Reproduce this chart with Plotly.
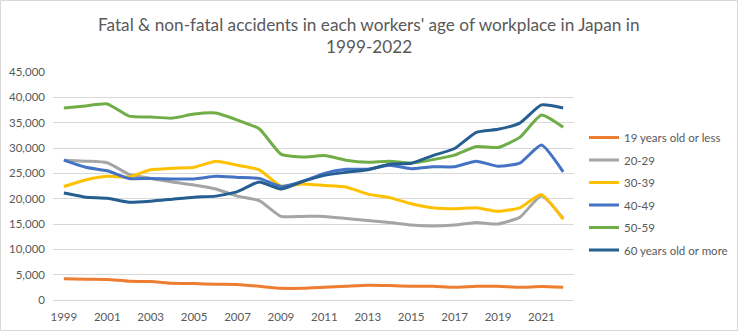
import plotly.graph_objects as go

years = list(range(1999, 2023))

age_19_or_less = [4200, 4100, 4050, 3700, 3650, 3300, 3250, 3100, 3050, 2700, 2300, 2300,
                  2500, 2700, 2900, 2850, 2700, 2700, 2500, 2700, 2700, 2500, 2650, 2500]
age_20_29 = [27600, 27400, 27100, 24800, 24000, 23300, 22700, 21900, 20500, 19600, 16500, 16500,
             16500, 16100, 15700, 15300, 14800, 14600, 14800, 15300, 15000, 16300, 20600, 16100]
age_30_39 = [22400, 23700, 24400, 24300, 25700, 26000, 26200, 27400, 26600, 25700, 22500, 22900,
             22600, 22300, 20900, 20200, 19000, 18200, 18000, 18200, 17500, 18200, 20800, 15900]
age_40_49 = [27600, 26200, 25500, 24000, 24000, 23900, 23900, 24400, 24200, 24000, 22400, 23400,
             25000, 25800, 25800, 26600, 25900, 26300, 26300, 27400, 26400, 27000, 30600, 25300]
age_50_59 = [37900, 38300, 38700, 36300, 36100, 35900, 36700, 36900, 35500, 33800, 28800, 28200,
             28500, 27600, 27200, 27400, 27000, 27700, 28600, 30300, 30100, 32100, 36500, 34100]
age_60_more = [21100, 20300, 20100, 19300, 19500, 19900, 20300, 20500, 21400, 23300, 21900, 23400,
               24600, 25200, 25700, 26800, 27000, 28500, 29900, 33100, 33700, 34900, 38500, 37900]

series = [
    ("19 years old or less", age_19_or_less, "#ED7D31"),
    ("20-29", age_20_29, "#A5A5A5"),
    ("30-39", age_30_39, "#FFC000"),
    ("40-49", age_40_49, "#4472C4"),
    ("50-59", age_50_59, "#70AD47"),
    ("60 years old or more", age_60_more, "#255E91"),
]

title_lines = ["Fatal & non-fatal accidents in each workers' age of workplace in Japan in",
               "1999-2022"]

FONT = "Lato"
TXT = "#595959"

fig = go.Figure()
for i, (name, vals, color) in enumerate(series):
    fig.add_trace(go.Scatter(
        x=years, y=vals, name=name, mode="lines",
        line=dict(color=color, width=3, shape="spline", smoothing=0.5),
        legendgroup=f"g{i}",
    ))

W, H = 738, 331
L, R, T, B = 53, 164, 72, 31
pw, ph = W - L - R, H - T - B

fig.update_layout(
    width=W, height=H,
    margin=dict(l=L, r=R, t=T, b=B, autoexpand=False),
    paper_bgcolor="white", plot_bgcolor="white",
    font=dict(family=FONT, color=TXT, size=12),
    xaxis=dict(
        range=[1998.5, 2022.5], tickmode="linear", tick0=1999, dtick=2,
        showgrid=False, showline=True, linecolor="#D9D9D9", linewidth=1,
        ticks="", tickfont=dict(size=11.5, color=TXT), zeroline=False,
        ticklabelstandoff=6, automargin=False,
    ),
    yaxis=dict(
        range=[0, 45000], tickmode="linear", tick0=0, dtick=5000,
        tickformat=",", showgrid=True, gridcolor="#D9D9D9", gridwidth=1,
        zeroline=False, showline=False, ticks="", ticklen=0,
        tickfont=dict(size=11.5, color=TXT), ticklabelstandoff=7,
        automargin=False,
    ),
    legend=dict(
        x=(584 - L) / pw, xanchor="left", y=(H - B - 123) / ph, yanchor="top",
        font=dict(family=FONT, size=11.5, color=TXT),
        tracegroupgap=3.5, bgcolor="rgba(0,0,0,0)",
    ),
    showlegend=True,
)

for ypix, line in zip([24, 46], title_lines):
    fig.add_annotation(
        text=line, xref="paper", yref="paper",
        x=(W / 2 - L) / pw, y=(H - B - ypix) / ph,
        xanchor="center", yanchor="middle", showarrow=False,
        font=dict(family=FONT, size=17.2, color=TXT),
    )

fig.add_shape(
    type="rect", xref="paper", yref="paper",
    x0=(0.5 - L) / pw, x1=(W - 0.5 - L) / pw,
    y0=-(B - 0.5) / ph, y1=1 + (T - 0.5) / ph,
    line=dict(color="#D9D9D9", width=1), layer="below",
)

fig.write_html("out.html")
